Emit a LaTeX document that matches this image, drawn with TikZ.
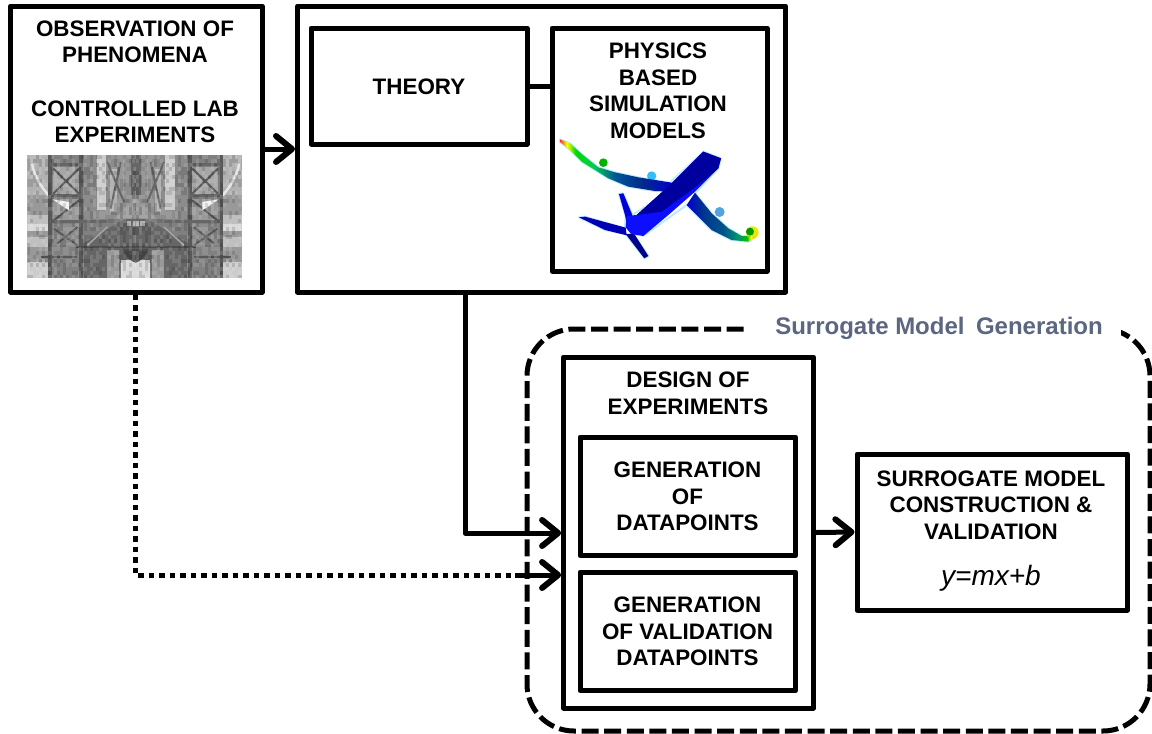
\documentclass[tikz,border=0pt]{standalone}
\usepackage{fontspec}
\setmainfont{Liberation Sans}
\usetikzlibrary{arrows.meta,calc}
\definecolor{labelblue}{HTML}{5B6680}
\definecolor{g25}{gray}{.25}\definecolor{g30}{gray}{.30}\definecolor{g35}{gray}{.35}\definecolor{g40}{gray}{.40}
\definecolor{g45}{gray}{.45}\definecolor{g50}{gray}{.50}\definecolor{g55}{gray}{.55}\definecolor{g60}{gray}{.60}
\definecolor{g65}{gray}{.65}\definecolor{g70}{gray}{.70}\definecolor{g75}{gray}{.75}\definecolor{g80}{gray}{.80}
\definecolor{g85}{gray}{.85}\definecolor{g90}{gray}{.90}\definecolor{g95}{gray}{.95}
\pgfdeclarehorizontalshading{wingl}{100bp}{color(0bp)=(red!80!white); color(25bp)=(red!80!white); color(28bp)=(yellow); color(32bp)=(green!85!black); color(40bp)=(green!60!cyan!80!black); color(50bp)=(cyan!55!blue!60!black); color(62bp)=(blue!70!cyan!55!black); color(75bp)=(blue!80!black); color(100bp)=(blue!80!black)}
\pgfdeclarehorizontalshading{wingr}{100bp}{color(0bp)=(blue!80!black); color(25bp)=(blue!80!black); color(38bp)=(blue!60!cyan!55!black); color(52bp)=(cyan!60!blue!55!black); color(63bp)=(cyan!70!green!60!black); color(69bp)=(green!75!black); color(72bp)=(yellow); color(75bp)=(red!50!white); color(100bp)=(red!50!white)}
\tikzset{
  box/.style={draw=black,line width=5pt,line join=round,fill=white,inner sep=0pt},
  lbl/.style={align=center,inner sep=0pt,font=\fontsize{22.4}{26.5}\selectfont\bfseries},
  barb/.style={line width=5pt,line join=round,-{Straight Barb[length=16pt,width=26pt,round,line width=6pt]}},
  plainconn/.style={line width=5pt},
  dotconn/.style={line width=5pt,dash pattern=on 5.5pt off 5pt},
  group/.style={line width=5pt,dash pattern=on 17pt off 5.6pt,rounded corners=47pt}
}
\newcommand{\photohalf}{%
  % side areas
  \fill[g70] (10,10) rectangle (76,130);
  \fill[g60] (10,130) rectangle (76,190);
  \fill[g75] (10,190) rectangle (76,215);
  \fill[g85] (10,215) rectangle (76,236);
  \fill[g60] (10,236) rectangle (76,255);
  \fill[g75] (10,255) rectangle (76,285);
  \fill[g60] (10,285) rectangle (76,330);
  \fill[g80] (10,330) rectangle (76,378);
  \draw[g90,line width=2.5pt] (24,35) .. controls (32,75) and (52,105) .. (74,130);
  % frame interior
  \fill[g50] (76,10) rectangle (180,378);
  \fill[g65] (88,45) rectangle (165,125);
  \fill[g60] (88,140) rectangle (165,205);
  \fill[g55] (88,215) rectangle (165,280);
  % central columns
  \fill[g55] (180,10) rectangle (335,200);
  \fill[g80] (218,10) rectangle (246,175);
  \fill[g70] (258,50) rectangle (278,180);
  \fill[g60] (285,20) rectangle (300,140);
  \fill[g40] (320,10) rectangle (335,130);
  \fill[g50] (180,200) rectangle (335,290);
  % diagonals
  \draw[g35,line width=2pt] (88,50) -- (165,125) (88,125) -- (165,50) (90,205) -- (165,145) (90,230) -- (160,280) (100,275) -- (160,225);
  \draw[g40,line width=2pt] (250,30) -- (300,150) (290,30) -- (260,170);
  % white triangle
  \fill[g95] (86,142) -- (135,150) -- (135,175) -- cycle;
  % central pyramid
  \fill[g40] (335,180) -- (160,285) -- (335,285) -- cycle;
  \fill[g60] (335,140) -- (270,200) -- (335,200) -- cycle;
  \draw[g65,line width=1.5pt] (190,280) -- (250,225);
  \fill[g70] (308,208) rectangle (322,222);
  \fill[g70] (326,208) rectangle (335,222);
  % posts and beams
  \draw[g35,line width=3.6pt] (78,10) -- (78,378);
  \draw[g35,line width=4pt] (172,10) -- (172,378);
  \draw[g40,line width=3.4pt] (78,130) -- (172,130);
  \draw[g40,line width=3pt] (78,210) -- (250,210);
  \draw[g40,line width=3pt] (78,36) -- (172,36);
  \draw[g30,line width=2.2pt] (155,285) -- (335,285);
  \draw[g35,line width=1.8pt] (50,315) -- (160,315);
  % base
  \fill[g40] (180,288) rectangle (335,378);
  \fill[g60] (250,295) rectangle (285,378);
  \fill[g85] (292,325) rectangle (335,378);
  \fill[g30] (296,290) .. controls (308,320) and (325,330) .. (335,332) -- (335,290) -- cycle;
  % grain
  \pgfmathsetseed{4711}
  \foreach \cx in {10,19,...,334}{\foreach \cy in {10,22,...,370}{
    \pgfmathrandominteger{\rn}{0}{3}
    \ifnum\rn=0 \fill[black,opacity=.12] (\cx,\cy) rectangle ++(9,12);\fi
    \ifnum\rn=1 \fill[white,opacity=.12] (\cx,\cy) rectangle ++(9,12);\fi
  }}
}
\begin{document}
\begin{tikzpicture}[x=1pt,y=-1pt]
\useasboundingbox (0,0) rectangle (1152,734);
\fill[white] (0,0) rectangle (1152,734);

% boxes
\node[box,minimum width=251.5pt,minimum height=286pt] (obs) at (136.25,149) {};
\node[box,minimum width=488pt,minimum height=286pt] (outer) at (541.5,149) {};
\node[box,minimum width=216pt,minimum height=116pt] (theory) at (419,86) {};
\node[box,minimum width=215pt,minimum height=243pt] (phys) at (659.5,149.5) {};
\node[box,minimum width=250pt,minimum height=351pt] (doe) at (688.6,532.5) {};
\node[box,minimum width=215.5pt,minimum height=118.7pt] (gena) at (687.75,496.35) {};
\node[box,minimum width=215.5pt,minimum height=118.7pt] (genb) at (687.75,631.35) {};
\node[box,minimum width=270.7pt,minimum height=156pt] (sur) at (992.35,532) {};

% photograph
\begin{scope}[shift={(24,152)},x=0.3333pt,y=-0.3333pt]
  \clip (10,10) rectangle (653,378);
  \fill[g60] (10,10) rectangle (653,378);
  \photohalf
  \begin{scope}[shift={(670,0)},xscale=-1]
    \photohalf
  \end{scope}
\end{scope}

% aeroplane
\begin{scope}[shift={(555,130)},x=0.3333pt,y=-0.3333pt]
  \draw[cyan!25!white,line width=2pt,fill=white,line join=round]
    (15,28) -- (45,40) -- (80,72) -- (130,112) -- (180,127) -- (250,142) -- (345,158) -- (445,65) -- (498,85) -- (490,115) -- (420,190) -- (470,250) -- (520,295) -- (560,318) -- (600,320) -- (580,335) -- (530,330) -- (470,300) -- (395,225) -- (265,318) -- (235,312) -- (280,378) -- (268,385) -- (212,312) -- (150,300) -- (72,262) -- (90,260) -- (210,295) -- (212,258) -- (192,192) -- (205,190) -- (232,255) -- (345,185) -- (300,183) -- (220,170) -- (160,145) -- (120,120) -- (80,95) -- (45,60) -- (15,36) -- cycle;
  \fill[cyan!80!white] (290,138) circle[radius=14];
  \fill[cyan!70!blue!70!white] (494,246) circle[radius=15];
  \fill[green!70!black] (145,98) circle[radius=13];
  \fill[yellow!90!green] (592,308) circle[radius=19];
  \fill[green!60!black] (585,305) circle[radius=12];
  \shade[shading=wingl] (15,28) -- (45,40) -- (80,72) -- (130,112) -- (180,127) -- (250,142) -- (350,158) -- (350,185) -- (300,183) -- (220,170) -- (160,145) -- (120,120) -- (80,95) -- (45,60) -- (15,36) -- cycle;
  \shade[shading=wingr] (395,225) -- (420,188) -- (470,250) -- (520,295) -- (560,318) -- (600,320) -- (580,335) -- (530,330) -- (470,300) -- cycle;
  \fill[blue!85!black] (192,192) -- (205,190) -- (232,255) -- (218,295) -- (210,255) -- cycle;
  \fill[blue!70!black] (72,262) -- (90,260) -- (212,293) -- (215,316) -- (150,300) -- cycle;
  \fill[blue!55!black] (212,312) -- (238,312) -- (280,378) -- (268,385) -- cycle;
  % fuselage: bright underside first, dark upper surface over it
  \fill[blue!95!white] (445,65) -- (498,85) -- (490,115) -- (420,185) -- (340,255) -- (265,318) -- (228,312) -- (212,292) -- (215,258) -- (245,255) -- (350,160) -- cycle;
  \fill[blue!62!black] (445,65) -- (498,85) -- (490,115) -- (410,180) -- (320,245) -- (245,255) -- (350,160) -- cycle;
\end{scope}

% labels
\node[lbl] (tobs) at (135,82) {OBSERVATION OF\\PHENOMENA\\[27pt]CONTROLLED LAB\\EXPERIMENTS};
\node[lbl] (ttheory) at (419,87) {THEORY};
\node[lbl] (tphys) at (658,91) {PHYSICS\\BASED\\SIMULATION\\MODELS};
\node[lbl] (tdoe) at (688,393.5) {DESIGN OF\\EXPERIMENTS};
\node[lbl] (tgena) at (687.5,496.5) {GENERATION\\OF\\DATAPOINTS};
\node[lbl] (tgenb) at (687.5,631.5) {GENERATION\\OF VALIDATION\\DATAPOINTS};
\node[lbl] (tsur) at (991,505) {SURROGATE MODEL\\CONSTRUCTION \&\\VALIDATION};
\node[inner sep=0pt,font=\fontsize{28}{30}\selectfont\itshape] (eqn) at (991,578) {y=mx+b};

% connectors
\coordinate (benda) at (465,533);
\coordinate (bendb) at (135,575);
\coordinate (dotend) at (515,575);
\draw[barb] (obs.east) -- (outer.west);
\draw[plainconn] (theory.east) -- (theory.east -| phys.west);
\draw[barb] (outer.south -| benda) -- (benda) -- (doe.west |- benda);
\draw[barb] (doe.east) -- (sur.west);
\draw[dotconn] (obs.south -| bendb) -- (bendb) -- (dotend);
\draw[barb] (dotend) -- (doe.west |- dotend);

% surrogate group
\coordinate (gstart) at (743.6,329);
\draw[group] (gstart) -- (527,329) -- (527,731) -- (1150,731) -- (1150,329) -- (1080,329);
\fill[white] (745,312) rectangle (1121,345);
\node[inner sep=0pt,text=labelblue,font=\fontsize{24}{26}\selectfont\bfseries] (tgroup) at (939,328) {Surrogate Model\hspace{0.2em} Generation};
\end{tikzpicture}
\end{document}
